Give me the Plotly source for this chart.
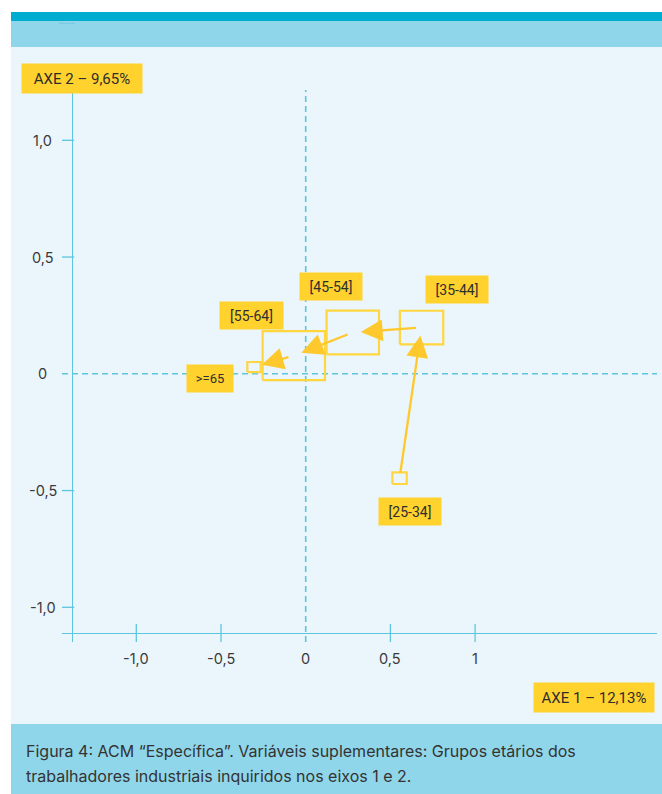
import plotly.graph_objects as go

# Supplementary categories: age groups of the surveyed industrial workers,
# projected on the first two axes of the "specific" MCA.
groups = ["[25-34]", "[35-44]", "[45-54]", "[55-64]", ">=65"]
axis1 = [0.554, 0.684, 0.278, -0.070, -0.305]
axis2 = [-0.447, 0.198, 0.177, 0.078, 0.029]
# extent of each group's box along axis 1 and axis 2
box_w = [0.085, 0.256, 0.309, 0.368, 0.079]
box_h = [0.050, 0.144, 0.187, 0.210, 0.043]

x_ticks = [-1.0, -0.5, 0.0, 0.5, 1.0]
x_tick_text = ["-1,0", "-0,5", "0", "0,5", "1"]
y_ticks = [-1.0, -0.5, 0.0, 0.5, 1.0]
y_tick_text = ["-1,0", "-0,5", "0", "0,5", "1,0"]

axis1_title = "AXE 1 – 12,13%"
axis2_title = "AXE 2 – 9,65%"
caption_lines = [
    "Figura 4: ACM “Específica”. Variáveis suplementares: Grupos etários dos",
    "trabalhadores industriais inquiridos nos eixos 1 e 2.",
]

# ---- styling / layout -------------------------------------------------------
W, H = 662, 794
ML, MR, MT, MB = 62, 5, 90, 152
X_RANGE = [-1.4386, 2.0738]
Y_RANGE = [-1.1486, 1.2154]
Y_AXIS_AT = -1.381   # where the vertical axis crosses axis 1
X_AXIS_AT = -1.110   # where the horizontal axis crosses axis 2

AXIS_COLOR = "#5CC6DE"
PANEL = "#EAF6FB"
BAND_DARK = "#00ADD0"
BAND_LIGHT = "#90D6EA"
YELLOW = "#FFD22E"
BOX_LINE = "#FFD640"
ARROW = "#FFC92E"
TEXT = "#2E2E2E"

# label placement around each group, in pixels (x right, y up)
label_shift = [(10, -33), (35, 38), (-22, 46), (-42, 40), (-44, -11.5)]
label_width = [62, 62, 62, 63, 46]


def fx(px):
    return (px - ML) / (W - ML - MR)


def fy(py):
    return (H - MB - py) / (H - MT - MB)


fig = go.Figure()

# group boxes
for gx, gy, w, h in zip(axis1, axis2, box_w, box_h):
    x0, x1 = gx - w / 2, gx + w / 2
    y0, y1 = gy - h / 2, gy + h / 2
    fig.add_trace(go.Scatter(
        x=[x0, x1, x1, x0, x0], y=[y0, y0, y1, y1, y0],
        mode="lines", line=dict(color=BOX_LINE, width=2.2),
        hoverinfo="skip", showlegend=False,
    ))

shapes = [
    # panel and bands
    dict(type="rect", xref="paper", yref="paper", x0=fx(11), x1=fx(662),
         y0=fy(724), y1=fy(47), fillcolor=PANEL, line_width=0, layer="below"),
    dict(type="rect", xref="paper", yref="paper", x0=fx(11), x1=fx(662),
         y0=fy(21), y1=fy(12), fillcolor=BAND_DARK, line_width=0, layer="below"),
    dict(type="rect", xref="paper", yref="paper", x0=fx(11), x1=fx(662),
         y0=fy(47), y1=fy(21), fillcolor=BAND_LIGHT, line_width=0, layer="below"),
    dict(type="rect", xref="paper", yref="paper", x0=fx(11), x1=fx(662),
         y0=fy(794), y1=fy(724), fillcolor=BAND_LIGHT, line_width=0, layer="below"),
    dict(type="line", xref="paper", yref="paper", x0=fx(59), x1=fx(75),
         y0=fy(23.5), y1=fy(23.5), line=dict(color="#74CBE3", width=1), layer="below"),
    # dashed origin lines
    dict(type="line", xref="x", yref="y", x0=X_RANGE[0], x1=X_RANGE[1], y0=0, y1=0,
         line=dict(color=AXIS_COLOR, width=1.6, dash="6px,4px"), layer="below"),
    dict(type="line", xref="x", yref="y", x0=0, x1=0, y0=Y_RANGE[0], y1=Y_RANGE[1],
         line=dict(color=AXIS_COLOR, width=1.6, dash="6px,4px"), layer="below"),
]

# tick marks (the origin is marked by the dashed lines instead)
for v in y_ticks:
    if v == 0:
        continue
    shapes.append(dict(type="line", xref="x", yref="y", xsizemode="pixel",
                       xanchor=Y_AXIS_AT, x0=-12, x1=2.5, y0=v, y1=v,
                       line=dict(color=AXIS_COLOR, width=1.3)))
for v in x_ticks:
    if v == 0:
        continue
    shapes.append(dict(type="line", xref="x", yref="y", ysizemode="pixel",
                       yanchor=X_AXIS_AT, y0=-9, y1=9, x0=v, x1=v,
                       line=dict(color=AXIS_COLOR, width=1.3)))

annotations = []

# tick labels
for v, t in zip(y_ticks, y_tick_text):
    annotations.append(dict(x=Y_AXIS_AT, y=v, xref="x", yref="y", text=t,
                            showarrow=False, xanchor="center", yanchor="middle",
                            xshift=-29, font=dict(family="Inter", size=14.5, color="#3A3A3A")))
for v, t in zip(x_ticks, x_tick_text):
    annotations.append(dict(x=v, y=X_AXIS_AT, xref="x", yref="y", text=t,
                            showarrow=False, xanchor="center", yanchor="middle",
                            yshift=-26, font=dict(family="Inter", size=14.5, color="#3A3A3A")))

# trajectory from the youngest to the oldest group
for i in range(len(groups) - 1):
    annotations.append(dict(
        x=axis1[i + 1], y=axis2[i + 1], ax=axis1[i], ay=axis2[i],
        xref="x", yref="y", axref="x", ayref="y", text="",
        showarrow=True, arrowhead=2, arrowsize=1.9, arrowwidth=2.3,
        arrowcolor=ARROW, standoff=8, startstandoff=4,
    ))

# group labels
for gx, gy, name, (sx, sy), w in zip(axis1, axis2, groups, label_shift, label_width):
    annotations.append(dict(
        x=gx, y=gy, xref="x", yref="y", text=name, showarrow=False,
        xshift=sx, yshift=sy, width=w, height=27, bgcolor=YELLOW, borderpad=0,
        xanchor="center", yanchor="middle", align="center",
        font=dict(family="Roboto", size=14 if name != ">=65" else 13, color=TEXT),
    ))

# axis titles
annotations.append(dict(x=fx(82), y=fy(78.3), xref="paper", yref="paper",
                        text=axis2_title, showarrow=False, width=120, height=29,
                        bgcolor=YELLOW, borderpad=0, xanchor="center", yanchor="middle",
                        font=dict(family="Roboto", size=15, color=TEXT)))
annotations.append(dict(x=fx(594), y=fy(697.7), xref="paper", yref="paper",
                        text=axis1_title, showarrow=False, width=120, height=29,
                        bgcolor=YELLOW, borderpad=0, xanchor="center", yanchor="middle",
                        font=dict(family="Roboto", size=15, color=TEXT)))

# caption
for k, line in enumerate(caption_lines):
    annotations.append(dict(x=fx(24), y=fy(751 + 25 * k), xref="paper", yref="paper",
                            text=line, showarrow=False, xanchor="left", yanchor="middle",
                            font=dict(family="Inter", size=16, color="#333333")))

x_pos = (X_AXIS_AT - Y_RANGE[0]) / (Y_RANGE[1] - Y_RANGE[0])
y_pos = (Y_AXIS_AT - X_RANGE[0]) / (X_RANGE[1] - X_RANGE[0])

fig.update_layout(
    width=W, height=H,
    margin=dict(l=ML, r=MR, t=MT, b=MB),
    paper_bgcolor="white",
    plot_bgcolor="rgba(0,0,0,0)",
    showlegend=False,
    shapes=shapes,
    annotations=annotations,
    xaxis=dict(range=X_RANGE, anchor="free", position=x_pos, showline=True,
               linecolor=AXIS_COLOR, linewidth=1.3, showgrid=False, zeroline=False,
               ticks="", showticklabels=False, fixedrange=True),
    yaxis=dict(range=Y_RANGE, anchor="free", position=y_pos, showline=True,
               linecolor=AXIS_COLOR, linewidth=1.3, showgrid=False, zeroline=False,
               ticks="", showticklabels=False, fixedrange=True),
)

fig.write_html("out.html")
